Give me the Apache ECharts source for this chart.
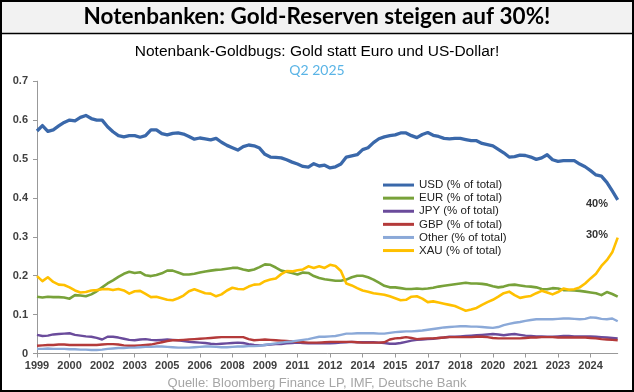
<!DOCTYPE html>
<html><head><meta charset="utf-8">
<script src="https://cdn.jsdelivr.net/npm/echarts@6/dist/echarts.min.js"></script>
<style>html,body{margin:0;padding:0;background:#fff}#c{width:634px;height:392px}</style>
</head><body><div id="c"></div>
<script>
// Quarterly categories from 1999 Q1
const firstYear = 1999;
const quarters = [];
for (let k = 0; k < 108; k++) quarters.push((firstYear + Math.floor(k / 4)) + ' Q' + (k % 4 + 1));
// tick labels shown every 6 quarters
const tickLabels = ['1999','2000','2002','2003','2005','2006','2008','2009','2011','2012','2014','2015','2017','2018','2020','2021','2023','2024'];
const seriesNames = ['USD (% of total)','EUR (% of total)','JPY (% of total)','GBP (% of total)','Other (% of total)','XAU (% of total)'];

const usd = [.572,.586,.571,.575,.585,.594,.600,.598,.607,.612,
 .604,.600,.600,.583,.570,.560,.557,.560,.560,.556,
 .560,.575,.575,.565,.562,.566,.567,.564,.558,.551,
 .554,.552,.549,.553,.543,.535,.529,.523,.532,.536,
 .534,.528,.512,.505,.504,.503,.498,.492,.487,.481,
 .479,.488,.482,.484,.477,.480,.487,.505,.508,.511,
 .524,.529,.542,.552,.557,.560,.562,.567,.567,.560,
 .555,.563,.568,.561,.558,.553,.552,.553,.553,.550,
 .547,.547,.540,.537,.534,.525,.516,.505,.506,.510,
 .509,.505,.499,.503,.511,.498,.494,.496,.496,.496,
 .487,.480,.470,.459,.456,.440,.418,.395];
const eur = [.146,.144,.146,.145,.145,.144,.141,.150,.149,.147,
 .152,.160,.170,.180,.188,.197,.205,.210,.207,.209,
 .201,.199,.202,.206,.213,.213,.208,.203,.203,.205,
 .208,.211,.213,.215,.216,.218,.220,.220,.216,.213,
 .216,.222,.229,.228,.221,.213,.210,.207,.203,.208,
 .207,.199,.194,.191,.189,.187,.187,.190,.196,.200,
 .200,.196,.190,.182,.174,.170,.170,.168,.166,.166,
 .167,.166,.167,.169,.172,.174,.176,.178,.180,.182,
 .180,.180,.179,.177,.173,.170,.172,.176,.177,.175,
 .173,.172,.170,.166,.165,.168,.167,.163,.163,.162,
 .161,.159,.157,.155,.150,.158,.153,.146];
const jpy = [.048,.045,.046,.049,.050,.051,.052,.048,.046,.044,
 .043,.040,.036,.043,.043,.041,.038,.035,.034,.036,
 .037,.035,.034,.035,.036,.035,.034,.032,.030,.029,
 .028,.027,.025,.024,.025,.026,.027,.028,.027,.024,
 .022,.021,.022,.023,.024,.024,.026,.027,.028,.027,
 .026,.026,.027,.026,.026,.027,.028,.029,.030,.029,
 .029,.029,.029,.028,.027,.025,.025,.027,.030,.033,
 .035,.036,.037,.038,.040,.041,.043,.043,.044,.045,
 .046,.047,.048,.049,.050,.049,.047,.049,.050,.048,
 .046,.045,.044,.044,.043,.043,.044,.045,.045,.044,
 .044,.044,.044,.043,.042,.041,.040,.039];
const gbp = [.020,.021,.022,.022,.023,.023,.022,.022,.022,.022,
 .022,.022,.023,.024,.024,.023,.021,.020,.020,.021,
 .022,.023,.026,.029,.032,.034,.034,.035,.036,.037,
 .038,.039,.040,.041,.042,.042,.042,.042,.042,.037,
 .034,.035,.036,.035,.034,.033,.032,.031,.030,.029,
 .028,.028,.028,.029,.030,.030,.030,.030,.030,.029,
 .028,.028,.028,.028,.029,.036,.039,.040,.042,.040,
 .037,.038,.039,.039,.040,.041,.042,.042,.042,.042,
 .042,.043,.043,.042,.040,.039,.039,.039,.039,.039,
 .040,.041,.041,.042,.042,.042,.041,.041,.041,.041,
 .041,.041,.040,.039,.037,.036,.035,.034];
const other = [.012,.012,.013,.012,.012,.012,.011,.011,.010,.010,
 .009,.009,.010,.012,.013,.014,.014,.015,.015,.016,
 .017,.017,.018,.018,.017,.016,.015,.015,.015,.016,
 .017,.018,.018,.017,.016,.016,.017,.018,.018,.019,
 .019,.020,.022,.024,.026,.028,.030,.031,.033,.035,
 .037,.040,.043,.043,.044,.045,.048,.051,.051,.052,
 .052,.052,.052,.051,.051,.053,.055,.056,.057,.057,
 .058,.059,.061,.063,.065,.067,.068,.069,.070,.070,
 .069,.069,.068,.067,.066,.068,.073,.076,.079,.081,
 .084,.086,.088,.088,.088,.088,.089,.090,.090,.089,
 .088,.089,.093,.092,.089,.088,.090,.083];
const xau = [.199,.186,.196,.184,.177,.176,.170,.162,.157,.158,
 .162,.163,.165,.166,.163,.166,.162,.154,.160,.161,
 .153,.145,.146,.142,.138,.137,.142,.149,.160,.165,
 .160,.155,.154,.147,.152,.162,.169,.166,.165,.172,
 .177,.178,.186,.190,.193,.204,.212,.211,.214,.216,
 .224,.220,.224,.220,.228,.225,.212,.180,.175,.168,
 .162,.159,.155,.153,.151,.147,.142,.137,.138,.146,
 .147,.141,.132,.134,.131,.128,.125,.122,.116,.110,
 .113,.117,.125,.132,.138,.146,.155,.159,.150,.143,
 .146,.148,.155,.161,.157,.152,.158,.167,.164,.165,
 .170,.180,.193,.205,.225,.240,.260,.298];

const colors = ['#3a68aa','#78a23a','#6a4b9b','#b43a3a','#8ba9d8','#ffc000'];
const widths = [3.3,2.6,2.4,2.4,2.4,2.6];
const values = [usd, eur, jpy, gbp, other, xau];
const font = "'Liberation Sans', Arial, sans-serif";

const chart = echarts.init(document.getElementById('c'), null, {renderer: 'canvas'});
chart.setOption({
  animation: false,
  backgroundColor: '#ffffff',
  color: colors,
  graphic: [
    {type: 'rect', z: -10, shape: {x: 1, y: 1, width: 632, height: 32}, style: {fill: '#f2f2f2'}},
    {type: 'line', z: 10, shape: {x1: 0, y1: 33.5, x2: 634, y2: 33.5}, style: {stroke: '#000', lineWidth: 1.5}},
    {type: 'rect', z: 10, shape: {x: 1, y: 1, width: 632, height: 390}, style: {fill: null, stroke: '#000', lineWidth: 2}},
    {type: 'text', z: 10, x: 597, y: 204, style: {text: '40%', font: 'bold 11px ' + font, fill: '#333', align: 'center', verticalAlign: 'middle'}},
    {type: 'text', z: 10, x: 597, y: 235, style: {text: '30%', font: 'bold 11px ' + font, fill: '#333', align: 'center', verticalAlign: 'middle'}}
  ],
  title: [
    {text: 'Notenbanken: Gold-Reserven steigen auf 30%!', left: 'center', top: 4, padding: 0,
     textStyle: {fontFamily: 'Lato', fontWeight: 'bold', fontSize: 22.5, lineHeight: 26, color: '#000'}},
    {text: 'Notenbank-Goldbugs: Gold statt Euro und US-Dollar!', left: 'center', top: 43, padding: 0,
     textStyle: {fontFamily: font, fontWeight: 'normal', fontSize: 15.5, lineHeight: 18, color: '#000'}},
    {text: 'Q2 2025', left: 'center', top: 62, padding: 0,
     textStyle: {fontFamily: 'Lato', fontWeight: 'normal', fontSize: 14, lineHeight: 16, color: '#5ab4e6'}},
    {text: 'Quelle: Bloomberg Finance LP, IMF, Deutsche Bank', left: 'center', top: 375, padding: 0,
     textStyle: {fontFamily: font, fontWeight: 'normal', fontSize: 13, lineHeight: 16, color: '#a6a6a6'}}
  ],
  legend: {
    orient: 'vertical', left: 383, top: 178.5, padding: 0,
    icon: 'rect', itemWidth: 31, itemHeight: 3, itemGap: 0,
    textStyle: {fontFamily: font, fontSize: 11.5, color: '#222', lineHeight: 13.1},
    data: seriesNames
  },
  grid: {left: 37, right: 16.3, top: 81.2, bottom: 38.5, containLabel: false},
  xAxis: {
    type: 'category', data: quarters, boundaryGap: false,
    axisLine: {lineStyle: {color: '#999', width: 1}},
    axisTick: {interval: 5, length: 4, lineStyle: {color: '#999'}},
    axisLabel: {interval: 5, margin: 7, fontFamily: font, fontWeight: 'bold', fontSize: 11, color: '#404040',
      formatter: (v, i) => tickLabels[Math.round(i / 6)]},
    splitLine: {show: false}
  },
  yAxis: {
    type: 'value', min: 0, max: 0.7, interval: 0.1,
    axisLine: {show: true, lineStyle: {color: '#999', width: 1}},
    axisTick: {show: true, length: 4, lineStyle: {color: '#999'}},
    axisLabel: {margin: 9, fontFamily: font, fontWeight: 'bold', fontSize: 11, color: '#404040'},
    splitLine: {show: false}
  },
  series: seriesNames.map((n, k) => ({
    name: n, type: 'line', data: values[k], symbol: 'none', showSymbol: false,
    lineStyle: {width: widths[k], color: colors[k], join: 'round'},
    itemStyle: {color: colors[k]}
  }))
});
</script></body></html>
